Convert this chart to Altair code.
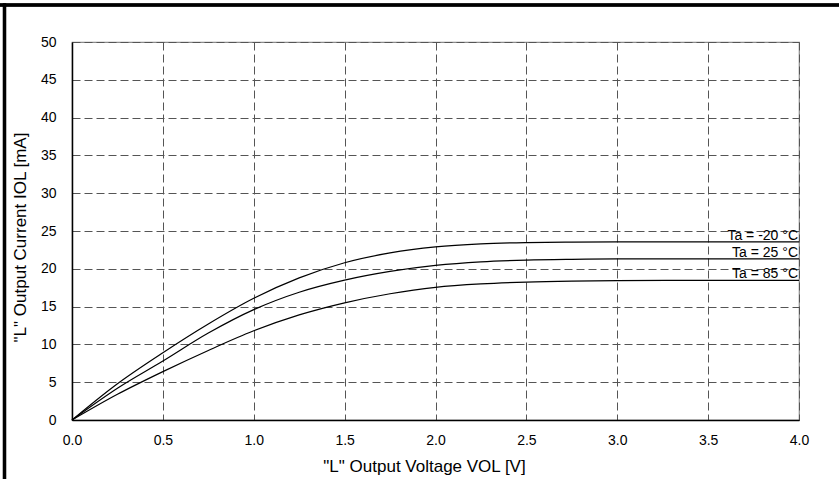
import altair as alt
import pandas as pd

# ---- data ----
vol = [0.0, 0.25, 0.5, 0.75, 1.0, 1.25, 1.5, 1.75, 2.0, 2.25, 2.5, 2.75, 3.0, 3.5, 4.0]
iol_m20 = [0, 4.8, 8.9, 12.7, 16.1, 18.8, 20.8, 22.1, 22.9, 23.3, 23.47, 23.53, 23.55, 23.55, 23.55]
iol_25 = [0, 4.2, 7.8, 11.5, 14.6, 16.9, 18.5, 19.65, 20.45, 20.92, 21.15, 21.25, 21.3, 21.3, 21.3]
iol_85 = [0, 3.4, 6.4, 9.2, 11.8, 13.9, 15.5, 16.7, 17.55, 18.0, 18.25, 18.38, 18.44, 18.46, 18.46]
series_names = ["Ta = -20 °C", "Ta = 25 °C", "Ta = 85 °C"]
x_ticks = [0.0, 0.5, 1.0, 1.5, 2.0, 2.5, 3.0, 3.5, 4.0]
y_ticks = [0, 5, 10, 15, 20, 25, 30, 35, 40, 45, 50]

rows = []
for name, ys in zip(series_names, [iol_m20, iol_25, iol_85]):
    for v, i in zip(vol, ys):
        rows.append({"series": name, "VOL": v, "IOL": i})
df = pd.DataFrame(rows)
labels = pd.DataFrame({"series": series_names,
                       "VOL": [vol[-1]] * 3,
                       "IOL": [iol_m20[-1], iol_25[-1], iol_85[-1]]})

FONT = "Liberation Sans"
W, H = 727, 378

xscale = alt.Scale(domain=[0, 4], nice=False, zero=False)
yscale = alt.Scale(domain=[0, 50], nice=False)

xaxis = alt.Axis(title='"L" Output Voltage VOL [V]', values=x_ticks, format=".1f",
                 grid=True, gridColor="#555555", gridDash=[8, 4], gridWidth=1,
                 ticks=False, labelPadding=13, labelFontSize=14, labelFont=FONT,
                 labelColor="black", domainColor="black", domainWidth=1.5,
                 labelOverlap=False, labelFlush=False,
                 titleFont=FONT, titleFontSize=17, titleFontWeight="normal",
                 titleColor="black", titleX=352, titleY=51,
                 titleBaseline="alphabetic", titleAlign="center")
yaxis = alt.Axis(title='"L" Output Current IOL [mA]', values=y_ticks,
                 grid=True, gridColor="#555555", gridDash=[8, 4], gridWidth=1,
                 ticks=False, labelPadding=16, labelFontSize=14, labelFont=FONT,
                 labelColor="black", domainColor="black", domainWidth=1.5,
                 labelOverlap=False, labelFlush=False,
                 titleFont=FONT, titleFontSize=17, titleFontWeight="normal",
                 titleColor="black", titleX=-47, titleY=195,
                 titleAngle=-90, titleBaseline="alphabetic", titleAlign="center")

lines = alt.Chart(df).mark_line(color="black", strokeWidth=1.2, interpolate="monotone").encode(
    x=alt.X("VOL:Q", scale=xscale, axis=xaxis),
    y=alt.Y("IOL:Q", scale=yscale, axis=yaxis),
    detail="series:N",
)

text = alt.Chart(labels).mark_text(align="right", baseline="alphabetic", dx=-1, dy=-2,
                                   font=FONT, fontSize=14, color="black").encode(
    x=alt.X("VOL:Q", scale=xscale, axis=xaxis),
    y=alt.Y("IOL:Q", scale=yscale, axis=yaxis),
    text="series:N")

frame_top = alt.Chart(labels).mark_rule(color="black", strokeWidth=3.2).encode(
    x=alt.value(-72), x2=alt.value(767), y=alt.value(-37))
frame_left = alt.Chart(labels).mark_rule(color="black", strokeWidth=3.2).encode(
    x=alt.value(-67.5), y=alt.value(-38.6), y2=alt.value(437))

chart = alt.layer(lines, text, frame_top, frame_left).properties(
    width=W, height=H,
    padding={"left": 72, "top": 42, "right": 40, "bottom": 59},
    autosize=alt.AutoSizeParams(type="none"),
    background="white",
).configure_view(stroke="#8c8c8c", strokeWidth=1.2)

chart.save("out.html", embed_options={"renderer": "svg", "actions": False})
